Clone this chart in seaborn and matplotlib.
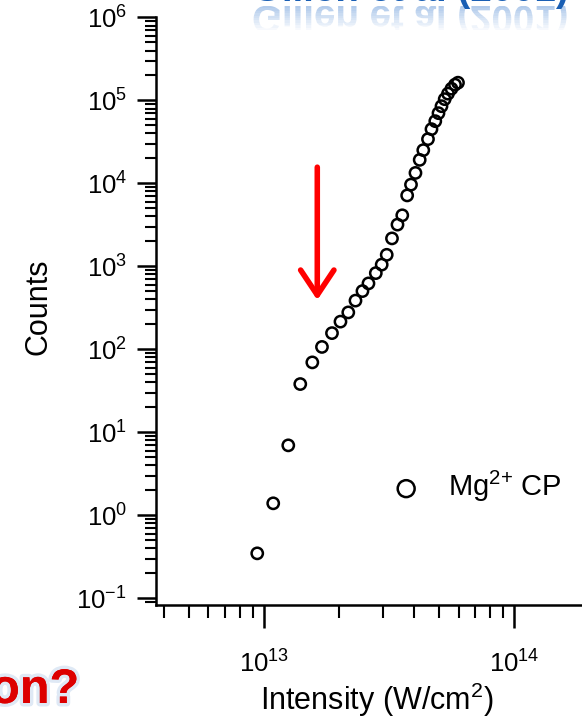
import numpy as np
import pandas as pd
import matplotlib
matplotlib.use("Agg")
import matplotlib.pyplot as plt
import seaborn as sns
from matplotlib.ticker import LogLocator, NullFormatter
import matplotlib.patheffects as pe
from matplotlib.textpath import TextPath
from matplotlib.patches import PathPatch, Rectangle
from matplotlib.font_manager import FontProperties
from matplotlib.transforms import Affine2D, IdentityTransform

# ---------------- data ----------------
intensity = [9.40e12, 1.089e13, 1.251e13, 1.397e13, 1.561e13, 1.706e13, 1.871e13,
             2.023e13, 2.174e13, 2.323e13, 2.477e13, 2.618e13, 2.801e13, 2.957e13,
             3.097e13, 3.251e13, 3.420e13, 3.574e13, 3.739e13, 3.873e13, 4.036e13,
             4.196e13, 4.337e13, 4.529e13, 4.677e13, 4.844e13, 4.989e13, 5.129e13,
             5.282e13, 5.445e13, 5.623e13, 5.808e13, 5.970e13]
counts = [0.348, 1.395, 6.97, 38.2, 69.7, 107, 157, 216, 279, 387, 504, 624, 830,
          1051, 1380, 2175, 3190, 4130, 7170, 9680, 13390, 19240, 25180, 34200,
          45100, 56300, 70300, 85300, 103700, 120800, 138700, 155000, 163800]
series_label = "Mg$^{2{+}}$ CP"
y_ticks = [1e-1, 1e0, 1e1, 1e2, 1e3, 1e4, 1e5, 1e6]
x_ticks = [1e13, 1e14]
x_label = "Intensity (W/cm$^2$)"
y_label = "Counts"
citation = "Gillen et al (2001)"
slide_fragment = "on?"
arrow_x = 1.634e13
arrow_from, arrow_to = 15700, 393

# ---------------- style ----------------
sns.set_style("ticks")
plt.rcParams["font.family"] = ["Liberation Sans", "DejaVu Sans"]
plt.rcParams["mathtext.fontset"] = "custom"
plt.rcParams["mathtext.rm"] = "Liberation Sans"
plt.rcParams["mathtext.it"] = "Liberation Sans:italic"
plt.rcParams["mathtext.bf"] = "Liberation Sans:bold"
plt.rcParams["text.color"] = "black"

W, H = 582, 723
fig = plt.figure(figsize=(W / 100, H / 100), dpi=100)
fig.patch.set_facecolor("white")

ax_left, ax_bottom_px, ax_top_px = 155.7, 605, 17.5
ax = fig.add_axes([ax_left / W, (H - ax_bottom_px) / H, 1 - ax_left / W,
                   (ax_bottom_px - ax_top_px) / H])
ax.set_facecolor("white")

df = pd.DataFrame({"intensity": intensity, "counts": counts})
sns.scatterplot(data=df, x="intensity", y="counts", ax=ax, marker="o", s=66,
                facecolor="none", edgecolor="black", linewidth=1.8,
                label=series_label, zorder=3)

ax.set_xscale("log")
ax.set_yscale("log")
ax.set_xlim(10 ** 12.567, 10 ** 14.272)
ax.set_ylim(10 ** -1.081, 1e6)

ax.set_yticks(y_ticks)
ax.set_xticks(x_ticks)
ax.yaxis.set_minor_locator(LogLocator(base=10, subs=np.arange(2, 10), numticks=40))
ax.xaxis.set_minor_locator(LogLocator(base=10, subs=np.arange(2, 10), numticks=40))
ax.yaxis.set_minor_formatter(NullFormatter())
ax.xaxis.set_minor_formatter(NullFormatter())

ax.tick_params(axis="y", which="major", length=13.7, width=1.8, direction="out",
               labelsize=18.5, pad=7, color="black", labelcolor="black")
ax.tick_params(axis="y", which="minor", length=7.9, width=1.5, direction="out", color="black")
ax.tick_params(axis="x", which="major", length=16.5, width=1.8, direction="out",
               labelsize=18.5, pad=16, color="black", labelcolor="black")
ax.tick_params(axis="x", which="minor", length=9.4, width=1.5, direction="out", color="black")

for side in ["top", "right"]:
    ax.spines[side].set_visible(False)
for side in ["left", "bottom"]:
    ax.spines[side].set_linewidth(1.8)
    ax.spines[side].set_color("black")

ax.set_xlabel(x_label, fontsize=22, color="black")
ax.set_ylabel(y_label, fontsize=22, color="black")
ax.xaxis.set_label_coords((377 - ax_left) / 426.3, (605 - 681) / 587.5)
ax.yaxis.set_label_coords((53 - ax_left) / 426.3, (605 - 307) / 587.5)

leg = ax.legend(loc="center left", bbox_to_anchor=((377 - ax_left) / 426.3, (605 - 486.7) / 587.5),
                frameon=False, fontsize=21, markerscale=1.5, handletextpad=0.45,
                borderpad=0, borderaxespad=0, labelcolor="black")

# red arrow annotation
ax.annotate("", xy=(arrow_x, arrow_to), xytext=(arrow_x, arrow_from),
            arrowprops=dict(arrowstyle="->,head_length=0.9,head_width=0.6",
                            color="#ff0000", lw=4.0, mutation_scale=20,
                            capstyle="round", joinstyle="round", shrinkA=0, shrinkB=0),
            zorder=4)

# slide remnants: citation (clipped at top) with faint reflection
fig.text(252 / W, (H - 1) / H, citation, fontsize=27.7, fontweight="bold",
         color="#1a5fb4", ha="left", va="baseline")
fp = FontProperties(family="Liberation Sans", weight="bold", size=27.7)
tp = TextPath((0, 0), citation, prop=fp)
refl_tf = Affine2D().scale(100 / 72, -100 / 72).translate(252, H - 6) + IdentityTransform()
nb = 10
for i in range(nb):
    top = H - 6 - i * 2.4
    clip = Rectangle((0, top - 2.4), W, 2.4, transform=IdentityTransform())
    patch = PathPatch(tp, transform=refl_tf, facecolor="#3f7fcf", edgecolor="none",
                      alpha=max(0.0, 0.4 * (1 - i / nb)))
    fig.patches.append(patch)
    patch.set_figure(fig)
    patch.set_clip_path(clip)

# slide remnant: red question fragment
fig.text(79 / W, (H - 703) / H, slide_fragment, fontsize=35, fontweight="bold",
         color="#dd0000", ha="right", va="baseline",
         path_effects=[pe.withStroke(linewidth=5, foreground="#dfe9f5"), pe.Normal()])

fig.savefig("out.png", dpi=100, facecolor="white")
